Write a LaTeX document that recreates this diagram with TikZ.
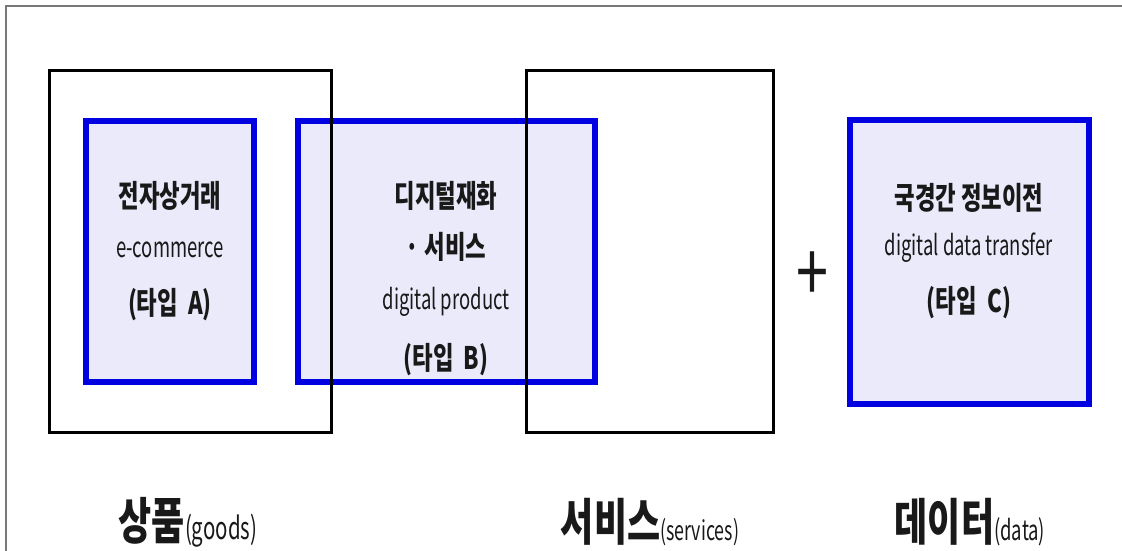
\documentclass[tikz,border=0pt]{standalone}
\usepackage{fontspec}
\newfontfamily\krA[FakeStretch=0.72]{Noto Sans CJK KR}
\newfontfamily\enA[FakeStretch=0.66]{Noto Sans CJK KR}
\definecolor{bluebd}{RGB}{0,0,225}
\definecolor{lav}{RGB}{234,234,250}
\definecolor{frame}{RGB}{120,120,120}
\definecolor{txt}{RGB}{25,25,25}
\begin{document}
\begin{tikzpicture}[x=1pt,y=-1pt,
  bluebox/.style={draw=bluebd,line width=6pt,fill=lav,rectangle,inner sep=0pt,outer sep=0pt},
  blackbox/.style={draw=black,line width=3pt,rectangle,inner sep=0pt,outer sep=0pt},
  kt/.style={text=txt,inner sep=0pt,font=\krA\bfseries\fontsize{31}{34}\selectfont},
  et/.style={text=txt,inner sep=0pt,font=\enA\fontsize{28}{32}\selectfont},
  bt/.style={text=txt,inner sep=0pt,font=\krA\fontsize{50}{54}\selectfont},
  pt/.style={font=\enA\fontsize{29}{34}\selectfont}
]
\useasboundingbox (0,0) rectangle (1122,551);
\fill[white] (0,0) rectangle (1122,551);
\draw[frame,line width=1.5pt] (6,551) -- (6,6) -- (1122,6);

% blue boxes
\node[bluebox,minimum width=168pt,minimum height=261pt] (A) at (170,251.5) {};
\node[bluebox,minimum width=297pt,minimum height=261pt] (B) at (446.5,251.5) {};
\node[bluebox,minimum width=239pt,minimum height=284pt] (C) at (969.5,262) {};

% black boxes
\node[blackbox,minimum width=282pt,minimum height=362pt] (goods) at (190.5,251.5) {};
\node[blackbox,minimum width=247pt,minimum height=362pt] (serv) at (650,251.5) {};

% texts in A
\node[kt] (a1) at (170,196) {전자상거래};
\node[et] (a2) at (170,250) {e-commerce};
\node[kt] (a3) at (170,305) {(타입\ \ A)};
% texts in B
\node[kt] (b1) at (446,196) {디지털재화};
\node[kt] (b2) at (446,247) {· 서비스};
\node[et] (b3) at (446,302) {digital product};
\node[kt] (b4) at (446,360) {(타입\ \ B)};
% texts in C
\node[kt] (c1) at (969,198) {국경간 정보이전};
\node[et] (c2) at (969,248) {digital data transfer};
\node[kt] (c3) at (969,303) {(타입\ \ C)};

% plus
\node[text=txt,inner sep=0pt,font=\krA\fontsize{80}{80}\selectfont] (plus) at (812,277) {+};

% bottom labels
\node[bt] (lg) at (188,522) {{\bfseries 상품}{\enA\fontsize{31}{34}\selectfont(goods)}};
\node[bt] (ls) at (650,522) {{\bfseries 서비스}{\enA\fontsize{27}{34}\selectfont(services)}};
\node[bt] (ld) at (970,522) {{\bfseries 데이터}{\enA\fontsize{28}{34}\selectfont(data)}};
\end{tikzpicture}
\end{document}
